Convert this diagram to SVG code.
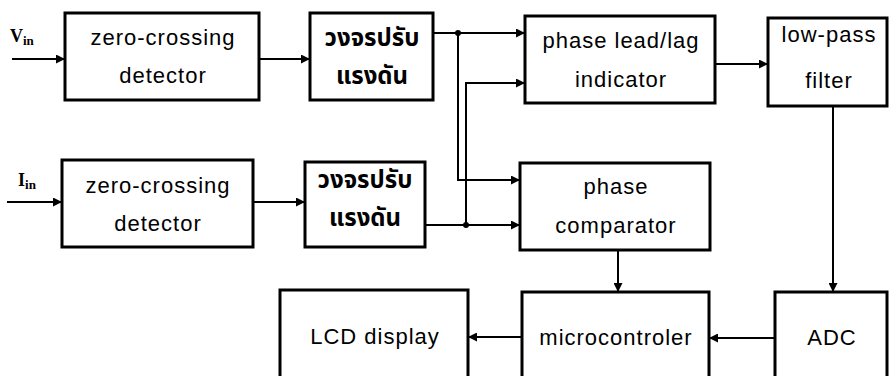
<svg xmlns="http://www.w3.org/2000/svg" width="891" height="376" viewBox="0 0 891 376">
<style>
.box{fill:#fff;stroke:#000;stroke-width:3}
.t{font-family:"Liberation Sans",Arial,sans-serif;font-size:22px;letter-spacing:1px;fill:#000;text-anchor:middle;dominant-baseline:central}
.th{font-family:"Noto Sans Thai","Loma","Garuda","Noto Sans","DejaVu Sans",sans-serif;font-size:24px;font-weight:bold;fill:#000;text-anchor:middle;dominant-baseline:central}
.lbl{font-family:"Liberation Serif","Times New Roman",serif;font-weight:bold;font-size:18px;fill:#000}
.c{fill:none;stroke:#000;stroke-width:2}
</style>
<defs>
<marker id="a" markerUnits="userSpaceOnUse" markerWidth="9" markerHeight="9" refX="8" refY="4.5" orient="auto">
<path d="M0,0 L9,4.5 L0,9 z" fill="#000"/>
</marker>
</defs>
<rect width="891" height="376" fill="#fff"/>
<g id="vin"><text class="lbl" x="10" y="42">V<tspan font-size="13" dy="3">in</tspan></text></g>
<g id="iin"><text class="lbl" x="18" y="186">I<tspan font-size="13" dy="3">in</tspan></text></g>
<g id="zc1"><rect class="box" x="65" y="13" width="194" height="87"/><text class="t" x="163" y="37">zero-crossing</text><text class="t" x="163" y="75">detector</text></g>
<g id="reg1"><rect class="box" x="310" y="13" width="123" height="87"/><text class="th" x="372" y="39">วงจรปรับ</text><text class="th" x="372" y="77">แรงดัน</text></g>
<g id="lead"><rect class="box" x="525" y="16" width="190" height="87"/><text class="t" x="621" y="40">phase lead/lag</text><text class="t" x="621" y="79">indicator</text></g>
<g id="lpf"><rect class="box" x="768" y="18" width="119" height="88"/><text class="t" x="829" y="34">low-pass</text><text class="t" x="829" y="80">filter</text></g>
<g id="zc2"><rect class="box" x="62" y="160" width="191" height="87"/><text class="t" x="158" y="185">zero-crossing</text><text class="t" x="158" y="223">detector</text></g>
<g id="reg2"><rect class="box" x="305" y="162" width="120" height="85"/><text class="th" x="365" y="181">วงจรปรับ</text><text class="th" x="365" y="219">แรงดัน</text></g>
<g id="comp"><rect class="box" x="520" y="163" width="190" height="87"/><text class="t" x="616" y="186">phase</text><text class="t" x="616" y="225">comparator</text></g>
<g id="lcd"><rect class="box" x="280" y="290" width="188" height="100"/><text class="t" x="375" y="336">LCD display</text></g>
<g id="mcu"><rect class="box" x="522" y="292" width="187" height="100"/><text class="t" x="616" y="337">microcontroler</text></g>
<g id="adc"><rect class="box" x="775" y="292" width="112" height="100"/><text class="t" x="832" y="337">ADC</text></g>
<g id="connectors">
<path class="c" d="M12,59 H64" marker-end="url(#a)"/>
<path class="c" d="M259,59 H309" marker-end="url(#a)"/>
<path class="c" d="M433,33 H524" marker-end="url(#a)"/>
<path class="c" d="M458,33 V180 H519" marker-end="url(#a)"/>
<path class="c" d="M466,225 V83 H524" marker-end="url(#a)"/>
<path class="c" d="M7,202 H61" marker-end="url(#a)"/>
<path class="c" d="M253,202 H304" marker-end="url(#a)"/>
<path class="c" d="M425,225 H519" marker-end="url(#a)"/>
<path class="c" d="M715,64 H767" marker-end="url(#a)"/>
<path class="c" d="M833,106 V291" marker-end="url(#a)"/>
<path class="c" d="M618,250 V291" marker-end="url(#a)"/>
<path class="c" d="M775,338 H710" marker-end="url(#a)"/>
<path class="c" d="M522,337 H469" marker-end="url(#a)"/>
<circle cx="458" cy="33" r="3" fill="#000"/>
<circle cx="466" cy="225" r="3" fill="#000"/>
</g>
</svg>
